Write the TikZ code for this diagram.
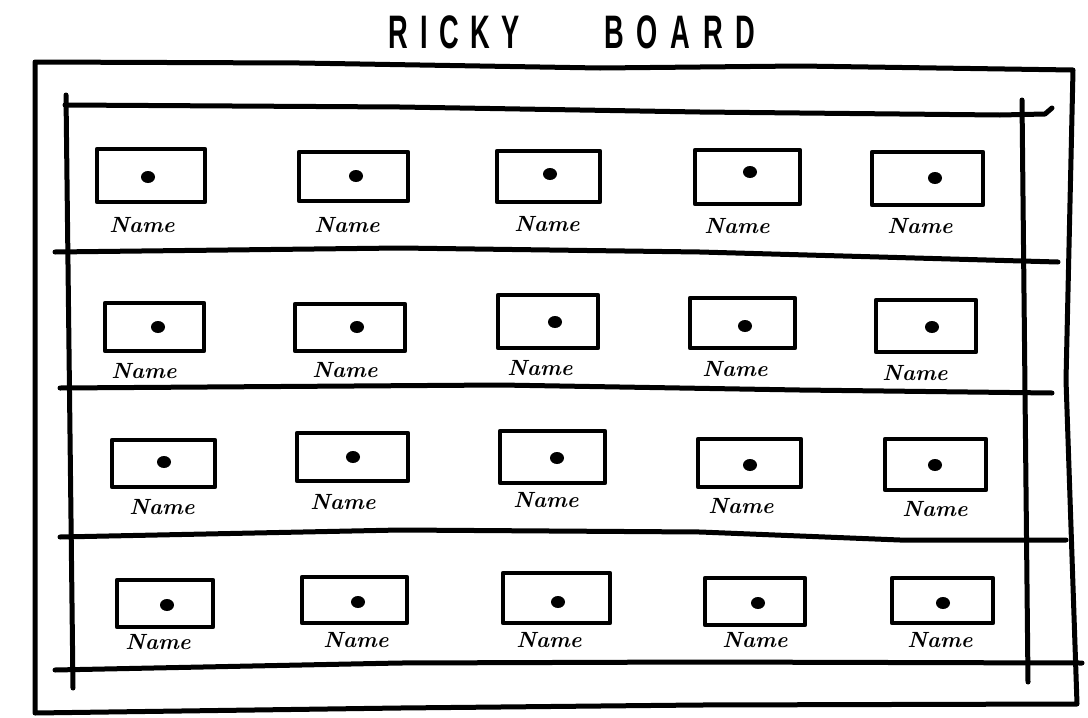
\documentclass[tikz,border=0pt]{standalone}
\usepackage{fontspec}
\newfontfamily\titlefont{Liberation Sans}
\usetikzlibrary{shapes.geometric}
\begin{document}
\begin{tikzpicture}[x=1pt,y=-1pt,
  frame/.style={line width=5pt, line cap=round, line join=round},
  slot/.style={draw, line width=4.4pt, rectangle, inner sep=0pt, outer sep=0pt, line join=round},
  hole/.style={ellipse, fill=black, inner sep=0pt, minimum width=14pt, minimum height=12pt},
  lbl/.style={font=\fontsize{22}{22}\selectfont\bfseries\itshape, inner sep=0pt},
  ttl/.style={font=\titlefont\bfseries\fontsize{47}{47}\selectfont, inner sep=0pt}]
\useasboundingbox (0,0) rectangle (1088,718);
\fill[white] (0,0) rectangle (1088,718);

% title
\node[ttl] (title) at (572,32) {\scalebox{0.58}[1]{R\kern20pt I\kern20pt C\kern20pt K\kern20pt Y\kern145pt B\kern22pt O\kern22pt A\kern22pt R\kern22pt D}};

% outer frame
\coordinate (otl) at (35,62);
\coordinate (otr) at (1073,70);
\coordinate (obr) at (1077,704);
\coordinate (obl) at (35,713);
\draw[frame] (otl) -- (300,63) -- (600,68) -- (800,66) -- (otr)
  -- (1066,380) -- (obr) -- (700,705) -- (400,708) -- (obl) -- cycle;

% inner frame
\coordinate (itl) at (65,105);
\coordinate (itr) at (1052,108);
\draw[frame] (itl) -- (400,107) -- (700,112) -- (1000,115) -- (1045,114) -- (itr);
\coordinate (ilt) at (66,95);
\coordinate (ilb) at (73,688);
\draw[frame] (ilt) -- (ilb);
\coordinate (irt) at (1022,100);
\coordinate (irb) at (1028,682);
\draw[frame] (irt) -- (irb);

% row dividers
\coordinate (h1a) at (55,252);
\coordinate (h1b) at (1058,262);
\draw[frame] (h1a) -- (400,248) -- (700,252) -- (h1b);
\coordinate (h2a) at (60,388);
\coordinate (h2b) at (1052,393);
\draw[frame] (h2a) -- (500,385) -- (800,390) -- (h2b);
\coordinate (h3a) at (60,537);
\coordinate (h3b) at (1066,540);
\draw[frame] (h3a) -- (400,530) -- (700,532) -- (900,540) -- (h3b);
\coordinate (h4a) at (55,670);
\coordinate (h4b) at (1082,663);
\draw[frame] (h4a) -- (400,663) -- (700,662) -- (h4b);

% slots
\foreach \n/\xa/\ya/\xb/\yb/\dx/\dy/\lx/\ly in {
  a1/97/149/205/202/148/177/142/225,
  a2/299/152/408/201/356/176/347/225,
  a3/497/151/600/202/550/174/547/224,
  a4/695/150/800/204/750/172/737/226,
  a5/872/152/983/205/935/178/920/226,
  b1/105/303/204/351/158/327/144/371,
  b2/295/304/405/351/357/327/345/370,
  b3/498/295/598/348/555/322/540/368,
  b4/690/298/795/348/745/326/735/369,
  b5/876/300/976/352/932/327/915/373,
  c1/112/440/215/487/164/462/162/507,
  c2/297/433/408/481/353/457/343/502,
  c3/500/431/605/483/557/458/546/500,
  c4/698/439/801/487/750/465/741/506,
  c5/885/439/986/490/935/465/935/509,
  d1/117/580/213/627/167/605/158/642,
  d2/302/577/407/623/358/602/356/640,
  d3/503/573/610/623/558/602/549/640,
  d4/705/578/805/625/758/603/755/640,
  d5/892/578/993/623/943/603/940/640}{
  \pgfmathsetmacro\w{\xb-\xa}
  \pgfmathsetmacro\h{\yb-\ya}
  \pgfmathsetmacro\cx{(\xa+\xb)/2}
  \pgfmathsetmacro\cy{(\ya+\yb)/2}
  \node[slot, minimum width=\w pt, minimum height=\h pt] (box\n) at (\cx,\cy) {};
  \node[hole] (dot\n) at (\dx,\dy) {};
  \node[lbl] (name\n) at (\lx,\ly) {Name};
}
\end{tikzpicture}
\end{document}
